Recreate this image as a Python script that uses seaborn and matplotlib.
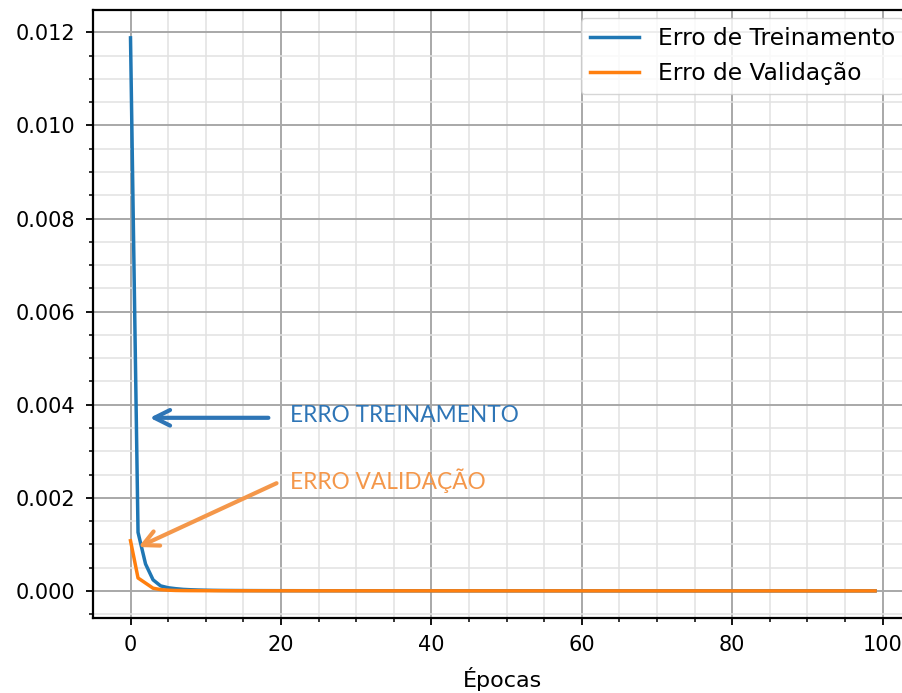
import numpy as np
import pandas as pd
import matplotlib
matplotlib.use("Agg")
import matplotlib.pyplot as plt
import seaborn as sns
from matplotlib.ticker import MultipleLocator

epocas = list(range(100))
erro_treino = [
    0.01188, 0.00126, 0.00058, 0.00024, 0.00011, 0.00007, 0.00005, 0.000035, 0.000027, 0.000021,
    0.000017, 0.000014, 0.000012, 0.000011, 0.000010, 0.0000092, 0.0000086, 0.0000080, 0.0000076, 0.0000072,
    0.0000069, 0.0000066, 0.0000064, 0.0000062, 0.0000060, 0.0000058, 0.0000057, 0.0000056, 0.0000055, 0.0000054,
    0.0000053, 0.0000052, 0.0000051, 0.0000050, 0.0000049, 0.0000049, 0.0000048, 0.0000047, 0.0000047, 0.0000046,
    0.0000046, 0.0000045, 0.0000045, 0.0000044, 0.0000044, 0.0000043, 0.0000043, 0.0000042, 0.0000042, 0.0000041,
    0.0000041, 0.0000041, 0.0000040, 0.0000040, 0.0000040, 0.0000039, 0.0000039, 0.0000039, 0.0000038, 0.0000038,
    0.0000038, 0.0000037, 0.0000037, 0.0000037, 0.0000036, 0.0000036, 0.0000036, 0.0000036, 0.0000035, 0.0000035,
    0.0000035, 0.0000035, 0.0000034, 0.0000034, 0.0000034, 0.0000034, 0.0000033, 0.0000033, 0.0000033, 0.0000033,
    0.0000033, 0.0000032, 0.0000032, 0.0000032, 0.0000032, 0.0000032, 0.0000031, 0.0000031, 0.0000031, 0.0000031,
    0.0000031, 0.0000031, 0.0000030, 0.0000030, 0.0000030, 0.0000030, 0.0000030, 0.0000030, 0.0000029, 0.0000029,
]
erro_valid = [
    0.00108, 0.00028, 0.00017, 0.00006, 0.00003, 0.000018, 0.000012, 0.0000095, 0.0000082, 0.0000074,
    0.0000068, 0.0000063, 0.0000060, 0.0000057, 0.0000055, 0.0000053, 0.0000051, 0.0000050, 0.0000049, 0.0000048,
    0.0000047, 0.0000046, 0.0000045, 0.0000045, 0.0000044, 0.0000043, 0.0000043, 0.0000042, 0.0000042, 0.0000041,
    0.0000041, 0.0000040, 0.0000040, 0.0000040, 0.0000039, 0.0000039, 0.0000039, 0.0000038, 0.0000038, 0.0000038,
    0.0000037, 0.0000037, 0.0000037, 0.0000036, 0.0000036, 0.0000036, 0.0000036, 0.0000035, 0.0000035, 0.0000035,
    0.0000035, 0.0000034, 0.0000034, 0.0000034, 0.0000034, 0.0000033, 0.0000033, 0.0000033, 0.0000033, 0.0000033,
    0.0000032, 0.0000032, 0.0000032, 0.0000032, 0.0000032, 0.0000031, 0.0000031, 0.0000031, 0.0000031, 0.0000031,
    0.0000031, 0.0000030, 0.0000030, 0.0000030, 0.0000030, 0.0000030, 0.0000030, 0.0000029, 0.0000029, 0.0000029,
    0.0000029, 0.0000029, 0.0000029, 0.0000029, 0.0000028, 0.0000028, 0.0000028, 0.0000028, 0.0000028, 0.0000028,
    0.0000028, 0.0000028, 0.0000027, 0.0000027, 0.0000027, 0.0000027, 0.0000027, 0.0000027, 0.0000027, 0.0000027,
]
rotulo_treino = "Erro de Treinamento"
rotulo_valid = "Erro de Validação"
rotulo_x = "Épocas"
anot_treino = "ERRO TREINAMENTO"
anot_valid = "ERRO VALIDAÇÃO"

df = pd.DataFrame({"epoca": epocas, "treino": erro_treino, "valid": erro_valid})

fig = plt.figure(figsize=(9.03, 6.93), dpi=100)
ax = fig.add_axes([0.1033, 0.1078, 0.907, 0.8778])

sns.lineplot(data=df, x="epoca", y="treino", ax=ax, color="#1f77b4", lw=2.5, label=rotulo_treino)
sns.lineplot(data=df, x="epoca", y="valid", ax=ax, color="#ff7f0e", lw=2.5, label=rotulo_valid)

ax.set_xlim(-4.95, 103.95)
ax.set_ylim(-0.000586, 0.012479)
ax.xaxis.set_major_locator(MultipleLocator(20))
ax.xaxis.set_minor_locator(MultipleLocator(5))
ax.yaxis.set_major_locator(MultipleLocator(0.002))
ax.yaxis.set_minor_locator(MultipleLocator(0.0005))
ax.yaxis.set_major_formatter(matplotlib.ticker.FormatStrFormatter("%.3f"))

ax.grid(which="major", color="#a8a8a8", lw=1.4)
ax.grid(which="minor", color="#e2e2e2", lw=1.1)
ax.set_axisbelow(True)
for s in ax.spines.values():
    s.set_linewidth(1.6)
ax.tick_params(which="major", length=5, width=1.3, labelsize=15)
ax.tick_params(axis="y", which="major", pad=8)
ax.tick_params(axis="x", which="major", pad=7)
ax.tick_params(which="minor", length=3, width=1.1)

ax.set_xlabel(rotulo_x, fontsize=16, labelpad=9)
ax.set_ylabel("")

leg = ax.legend(loc="upper right", fontsize=16.8, frameon=True, handlelength=2.1,
                borderaxespad=0.35, fancybox=True)
leg.get_frame().set_edgecolor("#cccccc")

azul = "#2E75B6"
laranja = "#F4974A"
ax.annotate("", xy=(2.2, 0.00372), xytext=(18.7, 0.00372),
            arrowprops=dict(arrowstyle="->", color=azul, lw=3, mutation_scale=28))
ax.text(21.2, 0.00378, anot_treino, color=azul, fontsize=16.3, family="Lato",
        va="center", ha="left")
ax.annotate("", xy=(0.73, 0.00092), xytext=(19.75, 0.00234),
            arrowprops=dict(arrowstyle="->", color=laranja, lw=3, mutation_scale=28))
ax.text(21.2, 0.00238, anot_valid, color=laranja, fontsize=16.3, family="Lato",
        va="center", ha="left")

fig.savefig("out.png", dpi=100)
